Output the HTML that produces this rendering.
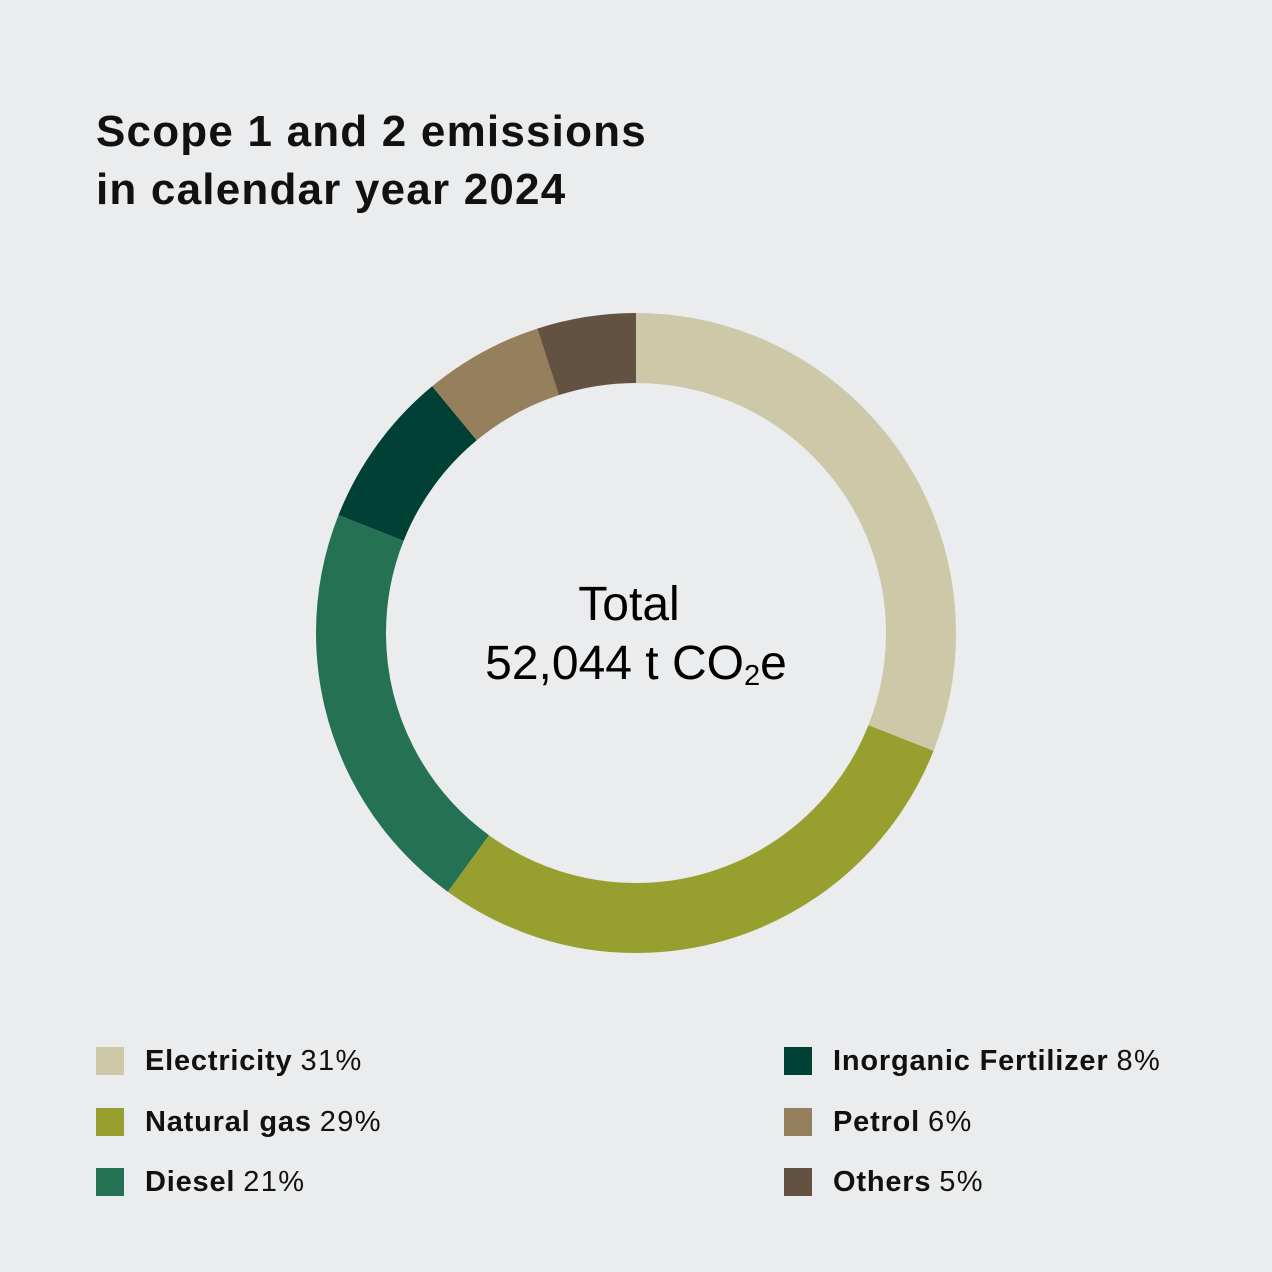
<!DOCTYPE html>
<html><head><meta charset="utf-8"><style>
body{margin:0;background:#ebeced;}
.w{position:relative;width:1272px;height:1272px;background:#ebeced;font-family:"Liberation Sans",sans-serif;color:#000;overflow:hidden}
.t{position:absolute;left:96px;top:103px;font-size:44px;line-height:58px;font-weight:bold;letter-spacing:1.2px;color:#111}
.c{position:absolute;left:0;width:1272px;text-align:center;font-size:48px}
.l{position:absolute;font-size:29px;line-height:30px;display:flex;align-items:center;letter-spacing:1.4px;color:#111}
.l i{display:inline-block;width:28px;height:28px;margin-right:21px}
.l b{font-weight:bold;margin-right:8px;letter-spacing:0.8px}
</style></head><body><div class="w">
<div class="t">Scope 1 and 2 emissions<br>in calendar year 2024</div>
<svg width="1272" height="1272" style="position:absolute;left:0;top:0">
<g transform="rotate(-90 636 633)" fill="none" stroke-width="70">
<circle cx="636" cy="633" r="285" stroke="#cdc8a8" stroke-dasharray="555.12 1790.71" stroke-dashoffset="0"/>
<circle cx="636" cy="633" r="285" stroke="#97a02e" stroke-dasharray="519.31 1790.71" stroke-dashoffset="-555.12"/>
<circle cx="636" cy="633" r="285" stroke="#257154" stroke-dasharray="376.05 1790.71" stroke-dashoffset="-1074.43"/>
<circle cx="636" cy="633" r="285" stroke="#004035" stroke-dasharray="143.26 1790.71" stroke-dashoffset="-1450.48"/>
<circle cx="636" cy="633" r="285" stroke="#967f5c" stroke-dasharray="107.44 1790.71" stroke-dashoffset="-1593.73"/>
<circle cx="636" cy="633" r="285" stroke="#635142" stroke-dasharray="89.54 1790.71" stroke-dashoffset="-1701.17"/>
</g></svg>
<div class="c" style="top:577px;left:-7px">Total</div>
<div class="c" style="top:636px">52,044 t CO<span style="font-size:29px;vertical-align:-6px">2</span>e</div>
<div class="l" style="left:96px;top:1046px"><i style="background:#cdc8a8"></i><b>Electricity</b>31%</div>
<div class="l" style="left:96px;top:1107px"><i style="background:#97a02e"></i><b>Natural gas</b>29%</div>
<div class="l" style="left:96px;top:1167px"><i style="background:#257154"></i><b>Diesel</b>21%</div>
<div class="l" style="left:784px;top:1046px"><i style="background:#004035"></i><b>Inorganic Fertilizer</b>8%</div>
<div class="l" style="left:784px;top:1107px"><i style="background:#967f5c"></i><b>Petrol</b>6%</div>
<div class="l" style="left:784px;top:1167px"><i style="background:#635142"></i><b>Others</b>5%</div>
</div></body></html>
